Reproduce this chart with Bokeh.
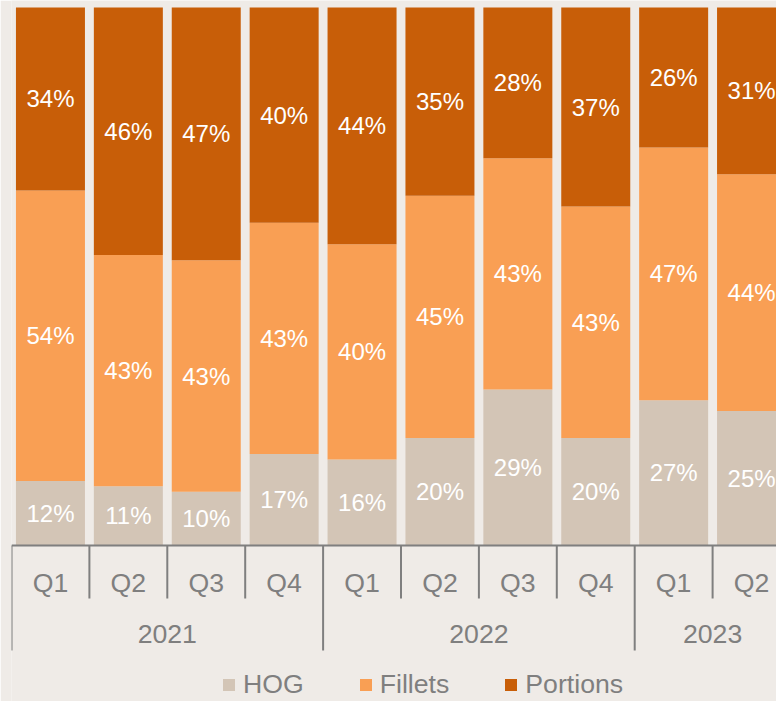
from bokeh.plotting import figure
from bokeh.models import ColumnDataSource, Range1d, Legend, LegendItem
from bokeh.core.properties import value
from bokeh.embed import file_html
from bokeh.resources import INLINE

# ---- data ----
years = ["2021", "2022", "2023"]
quarters_per_year = [4, 4, 2]
quarters = ["Q1", "Q2", "Q3", "Q4", "Q1", "Q2", "Q3", "Q4", "Q1", "Q2"]
series = ["HOG", "Fillets", "Portions"]
hog = [12, 11, 10, 17, 16, 20, 29, 20, 27, 25]
fillets = [54, 43, 43, 43, 40, 45, 43, 43, 47, 44]
portions = [34, 46, 47, 40, 44, 35, 28, 37, 26, 31]

# ---- styles ----
colors = ["#d3c5b6", "#f99f54", "#c85e08"]
bg = "#efebe7"
grey = "#7f7f7f"
FONT = "Liberation Sans"

# ---- layout (pixels) ----
W, H = 776, 701
pitch = 77.9            # px per category
bar_px = 69.0
left_pad = 11
frame_w = W - left_pad
px_per_unit = 538.0     # px for 100 %
axis_px = 545.0         # y of 0 % line from frame top
frame_h = H

x_end = frame_w / pitch
y_top = axis_px / px_per_unit
y_bot = -(frame_h - axis_px) / px_per_unit

def py(px_below_axis):
    return -px_below_axis / px_per_unit

n = len(quarters)
xs = [i + 0.5 for i in range(n)]
h = [v / 100 for v in hog]
f = [v / 100 for v in fillets]
po = [v / 100 for v in portions]

src = ColumnDataSource(dict(x=xs, HOG=h, Fillets=f, Portions=po))

p = figure(width=W, height=H, x_range=Range1d(0, x_end), y_range=Range1d(y_bot, y_top),
           output_backend="svg", toolbar_location=None,
           x_axis_type=None, y_axis_type=None,
           min_border_left=left_pad, min_border_right=0, min_border_top=0, min_border_bottom=0)
p.background_fill_color = bg
p.border_fill_color = bg
p.outline_line_color = None
p.grid.visible = False

rs = p.vbar_stack(series, x="x", width=bar_px / pitch, source=src, fill_color=colors, line_color=None)

# data labels
lx, ly, lt = [], [], []
for i in range(n):
    base = 0.0
    for vals in (hog, fillets, portions):
        v = vals[i] / 100
        lx.append(xs[i]); ly.append(base + v / 2); lt.append(f"{vals[i]}%")
        base += v
p.text(x=lx, y=ly, text=lt, text_color="white", text_align="center", text_baseline="middle",
       text_font=value(FONT), text_font_size="24px")

# axis line
p.segment(x0=[0], y0=[0], x1=[n + 1], y1=[0], line_color=grey, line_width=2)

# separators
group_bounds = [0]
for c in quarters_per_year:
    group_bounds.append(group_bounds[-1] + c)
sx, sy1 = [], []
for b in range(n + 1):
    sx.append(b)
    sy1.append(py(105) if b in group_bounds else py(53))
p.segment(x0=sx, y0=[0] * len(sx), x1=sx, y1=sy1, line_color=grey, line_width=2)

# quarter labels
p.text(x=xs, y=[py(37)] * n, text=quarters, text_color=grey, text_align="center",
       text_baseline="middle", text_font=value(FONT), text_font_size="26.67px")
# year labels
yx = [(group_bounds[k] + group_bounds[k + 1]) / 2 for k in range(len(years))]
p.text(x=yx, y=[py(88)] * len(years), text=years, text_color=grey, text_align="center",
       text_baseline="middle", text_font=value(FONT), text_font_size="26.67px")

legend = Legend(items=[LegendItem(label=s, renderers=[r]) for s, r in zip(series, rs)],
                orientation="horizontal", location=(210, 1),
                background_fill_alpha=0, border_line_alpha=0, padding=0, margin=0,
                spacing=54, glyph_width=15, glyph_height=15, label_standoff=7,
                label_text_font=FONT, label_text_font_size="26.67px",
                label_text_color=grey)
p.add_layout(legend)

html = file_html(p, INLINE)
html = html.replace("<body>", f'<body style="background:{bg}">', 1)
open("out.html", "w").write(html)
